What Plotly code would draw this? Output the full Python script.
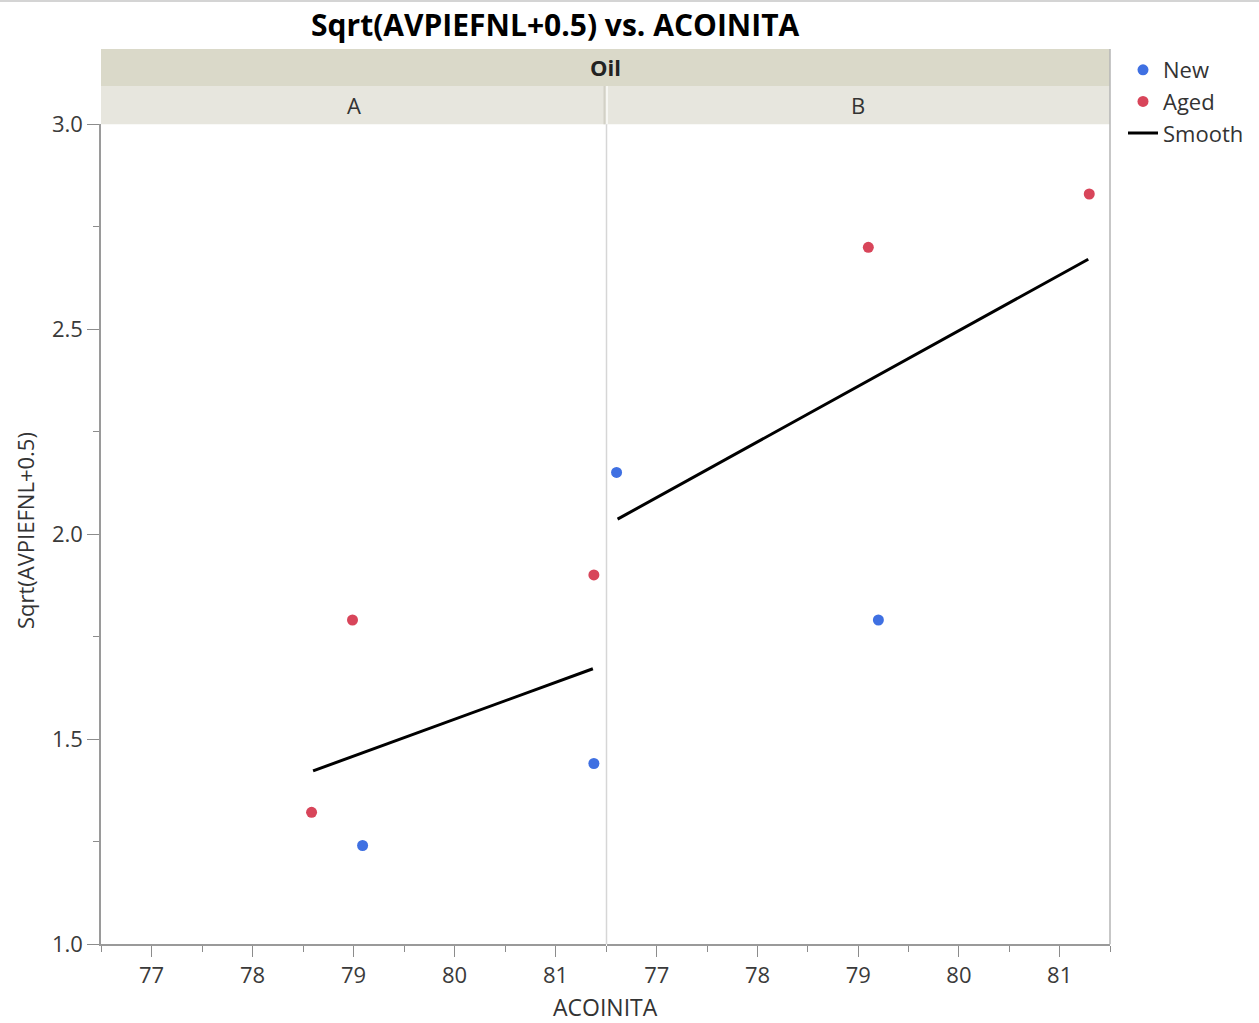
import plotly.graph_objects as go

# ---- data ----
panels = ["A", "B"]
new_x_A = [79.09, 81.38]
new_y_A = [1.241, 1.441]
aged_x_A = [78.585, 78.99, 81.38]
aged_y_A = [1.322, 1.791, 1.901]
smooth_x_A = [78.60, 81.37]
smooth_y_A = [1.423, 1.672]

new_x_B = [76.60, 79.20]
new_y_B = [2.151, 1.791]
aged_x_B = [79.10, 81.294]
aged_y_B = [2.700, 2.830]
smooth_x_B = [76.61, 81.284]
smooth_y_B = [2.037, 2.671]

x_ticks = [77, 78, 79, 80, 81]
y_ticks = [1.0, 1.5, 2.0, 2.5, 3.0]

BLUE = "#3f70e2"
RED = "#d8455a"
W, H = 1259, 1023
FONT = "Open Sans"

fig = go.Figure()

for i, (nx, ny, ax_, ay, sx, sy) in enumerate([
        (new_x_A, new_y_A, aged_x_A, aged_y_A, smooth_x_A, smooth_y_A),
        (new_x_B, new_y_B, aged_x_B, aged_y_B, smooth_x_B, smooth_y_B)]):
    xa = "x" if i == 0 else "x2"
    fig.add_trace(go.Scatter(x=sx, y=sy, mode="lines", xaxis=xa, yaxis="y",
                             line=dict(color="black", width=3), name="Smooth",
                             legendrank=3, showlegend=(i == 0)))
    fig.add_trace(go.Scatter(x=nx, y=ny, mode="markers", xaxis=xa, yaxis="y",
                             marker=dict(color=BLUE, size=11), name="New",
                             legendrank=1, showlegend=(i == 0)))
    fig.add_trace(go.Scatter(x=ax_, y=ay, mode="markers", xaxis=xa, yaxis="y",
                             marker=dict(color=RED, size=11), name="Aged",
                             legendrank=2, showlegend=(i == 0)))

x0p, xmid, x1p = 101 / W, 606.5 / W, 1110 / W
ytop, ybot = 1 - 124.3 / H, 1 - 944.3 / H

axis_common = dict(range=[76.5, 81.5], tickmode="array", tickvals=x_ticks,
                   ticks="outside", ticklen=11, tickwidth=1, tickcolor="#8c8c8c",
                   showline=True, linecolor="#9a9a9a", linewidth=1.5,
                   showgrid=False, zeroline=False, automargin=False,
                   tickfont=dict(family=FONT, size=22, color="#3a3a3a"),
                   minor=dict(dtick=0.5, tick0=76.5, ticks="outside", ticklen=6,
                              tickcolor="#8c8c8c", showgrid=False),
                   anchor="y", fixedrange=True)

fig.update_layout(
    template="none",
    width=W, height=H,
    margin=dict(l=0, r=0, t=0, b=0, pad=0, autoexpand=False),
    paper_bgcolor="white", plot_bgcolor="white",
    xaxis=dict(domain=[x0p, xmid - 0.5 / W], **axis_common),
    xaxis2=dict(domain=[xmid, x1p], **axis_common),
    yaxis=dict(domain=[ybot, ytop], range=[1.0, 3.0], tickmode="array",
               tickvals=y_ticks, ticktext=[f"{v:.1f}" for v in y_ticks],
               ticks="outside", ticklen=12, tickcolor="#8c8c8c",
               showline=True, linecolor="#9a9a9a", linewidth=1.5,
               showgrid=False, zeroline=False, anchor="x", automargin=False,
               tickfont=dict(family=FONT, size=22, color="#3a3a3a"),
               minor=dict(dtick=0.25, tick0=1.0, ticks="outside", ticklen=6,
                          tickcolor="#8c8c8c", showgrid=False),
               fixedrange=True),
    showlegend=True,
    legend=dict(x=1123 / W, y=1 - 49 / H, xanchor="left", yanchor="top",
                font=dict(family=FONT, size=22, color="#333333"),
                bgcolor="rgba(0,0,0,0)", borderwidth=0, tracegroupgap=0),
)

shapes = []
# strips
shapes.append(dict(type="rect", xref="paper", yref="paper", x0=x0p, x1=x1p,
                   y0=1 - 86 / H, y1=1 - 49 / H, fillcolor="#dad9c9",
                   line=dict(width=0), layer="below"))
shapes.append(dict(type="rect", xref="paper", yref="paper", x0=x0p, x1=x1p,
                   y0=ytop, y1=1 - 86 / H, fillcolor="#e7e6de",
                   line=dict(width=0), layer="below"))
# strip divider
shapes.append(dict(type="line", xref="paper", yref="paper", x0=(604.5) / W, x1=(604.5) / W,
                   y0=ytop, y1=1 - 86 / H, line=dict(color="#d2d1c6", width=2)))
shapes.append(dict(type="line", xref="paper", yref="paper", x0=(607) / W, x1=(607) / W,
                   y0=ytop, y1=1 - 86 / H, line=dict(color="#f6f6f2", width=2)))
# panel divider
shapes.append(dict(type="line", xref="paper", yref="paper", x0=xmid, x1=xmid,
                   y0=ybot, y1=ytop, line=dict(color="#d6d6d6", width=1.5)))
# right border
shapes.append(dict(type="line", xref="paper", yref="paper", x0=x1p, x1=x1p,
                   y0=ybot, y1=1 - 49 / H, line=dict(color="#b4b4b4", width=1.5)))
# top thin line
shapes.append(dict(type="line", xref="paper", yref="paper", x0=0, x1=1,
                   y0=1 - 1 / H, y1=1 - 1 / H, line=dict(color="#d4d4d4", width=2)))
fig.update_layout(shapes=shapes)

ann = [
    dict(text="<b>Sqrt(AVPIEFNL+0.5) vs. ACOINITA</b>", x=555 / W, y=1 - 25 / H,
         font=dict(family=FONT, size=30, color="black")),
    dict(text="<b>Oil</b>", x=(x0p + x1p) / 2, y=1 - 67.5 / H,
         font=dict(family=FONT, size=22, color="#222222")),
    dict(text="A", x=(x0p + xmid) / 2, y=1 - 105 / H,
         font=dict(family=FONT, size=22, color="#333333")),
    dict(text="B", x=(xmid + x1p) / 2, y=1 - 105 / H,
         font=dict(family=FONT, size=22, color="#333333")),
    dict(text="ACOINITA", x=(x0p + x1p) / 2, y=1 - 1007 / H,
         font=dict(family=FONT, size=23, color="#333333")),
    dict(text="Sqrt(AVPIEFNL+0.5)", x=25 / W, y=1 - 531 / H, textangle=-90,
         font=dict(family=FONT, size=22, color="#333333")),
]
for a in ann:
    a.update(xref="paper", yref="paper", showarrow=False,
             xanchor="center", yanchor="middle")
fig.update_layout(annotations=ann)

fig.write_html("out.html")
